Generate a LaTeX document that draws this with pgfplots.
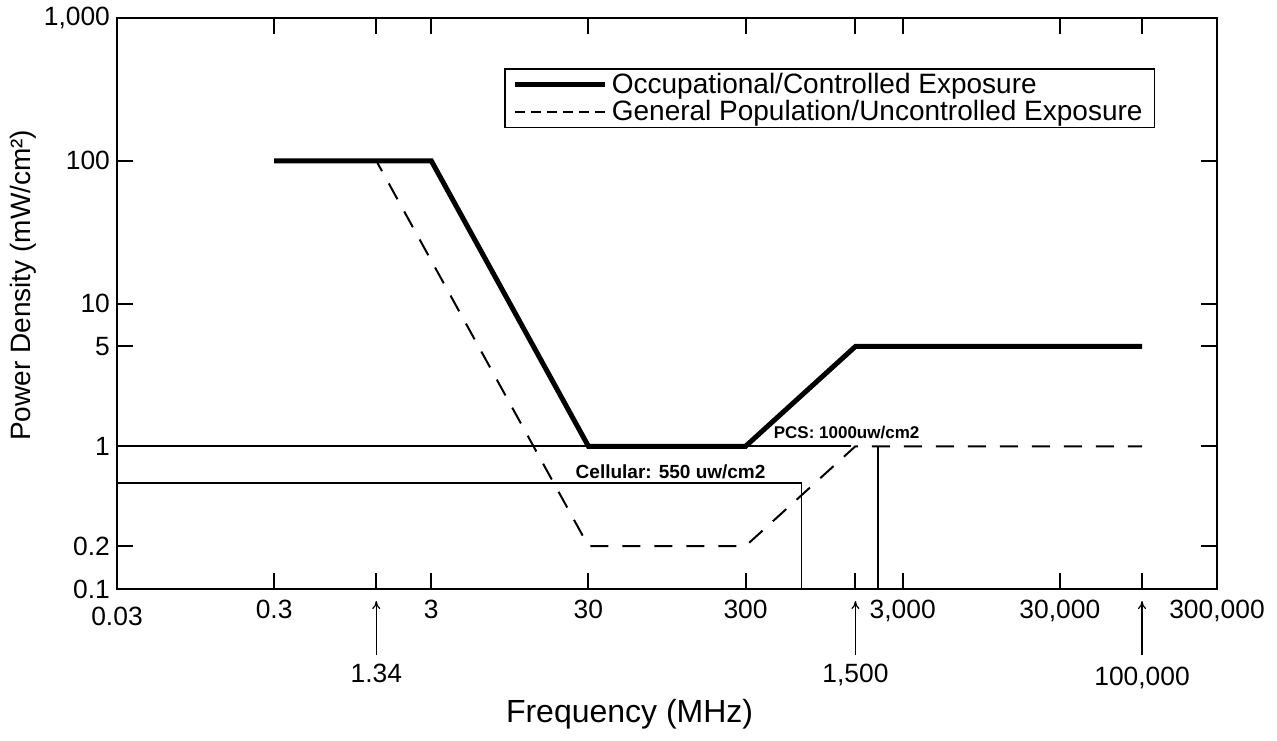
\documentclass[border=0pt]{standalone}
\usepackage{pgfplots}
\pgfplotsset{compat=1.18}
\usepackage{fontspec}
\setmainfont{Liberation Sans}
\usetikzlibrary{arrows.meta}

% 1 px of the reference = 0.5pt
\begin{document}
\begin{tikzpicture}
\path[use as bounding box] (-58.5pt,-75.5pt) rectangle (580pt,294.5pt);
\begin{axis}[
  at={(0,0)}, anchor=south west,
  scale only axis, width=550pt, height=285.5pt,
  xmode=log, ymode=log,
  xmin=0.03, xmax=300000, ymin=0.1, ymax=1000,
  clip=false,
  axis line style={line width=1.2pt},
  tick style={line width=1pt, black},
  tick align=inside, major tick length=8pt,
  xminorticks=false, yminorticks=false,
  xtick={0.3,1.34,3,30,300,1500,3000,30000,100000,300000},
  xticklabels={0.3,,3,30,300,,{3,000},{30,000},,{300,000}},
  ytick={0.1,0.2,1,5,10,100,1000},
  yticklabels={0.1,0.2,1,5,10,100,{1,000}},
  ticklabel style={font=\fontsize{13.2}{15}\selectfont},
  xticklabel style={yshift=-2pt},
  xlabel={Frequency (MHz)},
  xlabel style={font=\fontsize{16}{19}\selectfont, at={(axis description cs:0.466,-0.22)}, anchor=center},
  ylabel={Power Density (mW/cm²)},
  ylabel style={font=\fontsize{14}{17}\selectfont, at={(axis description cs:-0.085,0.532)}, anchor=center},
  legend style={at={(axis description cs:0.944,0.912)}, anchor=north east,
    draw=black, line width=0.8pt, font=\fontsize{14}{16}\selectfont,
    inner xsep=4pt, inner ysep=0pt, row sep=-2pt},
  legend cell align=left,
  legend image code/.code={\draw[#1] (0pt,0pt) -- (45pt,0pt);},
]
\addplot[black, line width=2.5pt] coordinates {
  (0.3,100) (3,100) (30,1) (300,1) (1500,5) (100000,5)
};
\addlegendentry{Occupational/Controlled Exposure}
\addplot[black, line width=1pt, dash pattern=on 9pt off 7pt,
  legend image post style={dash pattern=on 5pt off 3pt}] coordinates {
  (0.3,100) (1.34,100) (30,0.2) (300,0.2) (1500,1) (100000,1)
};
\addlegendentry{General Population/Uncontrolled Exposure}
% PCS and cellular levels
\addplot[black, line width=0.9pt, forget plot] coordinates {(0.03,1) (1400,1)};
\addplot[black, line width=0.9pt, forget plot] coordinates {(2100,1) (2100,0.1)};
\addplot[black, line width=0.9pt, forget plot] coordinates {(0.03,0.55) (680,0.55) (680,0.1)};

\node[font=\fontsize{8.5}{10}\selectfont\bfseries] at (axis cs:1318,1.25) {PCS: 1000uw/cm2};
\node[font=\fontsize{9.5}{11}\selectfont\bfseries] at (axis cs:100,0.658) {Cellular: 550 uw/cm2};

% extra tick labels under the axis
\node[anchor=base, font=\fontsize{13.2}{15}\selectfont] at ([yshift=-18pt]axis cs:0.03,0.1) {0.03};
\draw[line width=0.6pt, -{To[length=4pt,width=4pt]}] ([yshift=-33pt]axis cs:1.34,0.1) -- ([yshift=-6pt]axis cs:1.34,0.1);
\node[anchor=base, font=\fontsize{13.2}{15}\selectfont] at ([yshift=-46.5pt]axis cs:1.34,0.1) {1.34};
\draw[line width=0.6pt, -{To[length=4pt,width=4pt]}] ([yshift=-33pt]axis cs:1500,0.1) -- ([yshift=-6pt]axis cs:1500,0.1);
\node[anchor=base, font=\fontsize{13.2}{15}\selectfont] at ([yshift=-46.5pt]axis cs:1500,0.1) {1,500};
\draw[line width=0.6pt, -{To[length=4pt,width=4pt]}] ([yshift=-33pt]axis cs:100000,0.1) -- ([yshift=-6pt]axis cs:100000,0.1);
\node[anchor=base, font=\fontsize{13.2}{15}\selectfont] at ([yshift=-48pt]axis cs:100000,0.1) {100,000};
\end{axis}
\end{tikzpicture}
\end{document}
